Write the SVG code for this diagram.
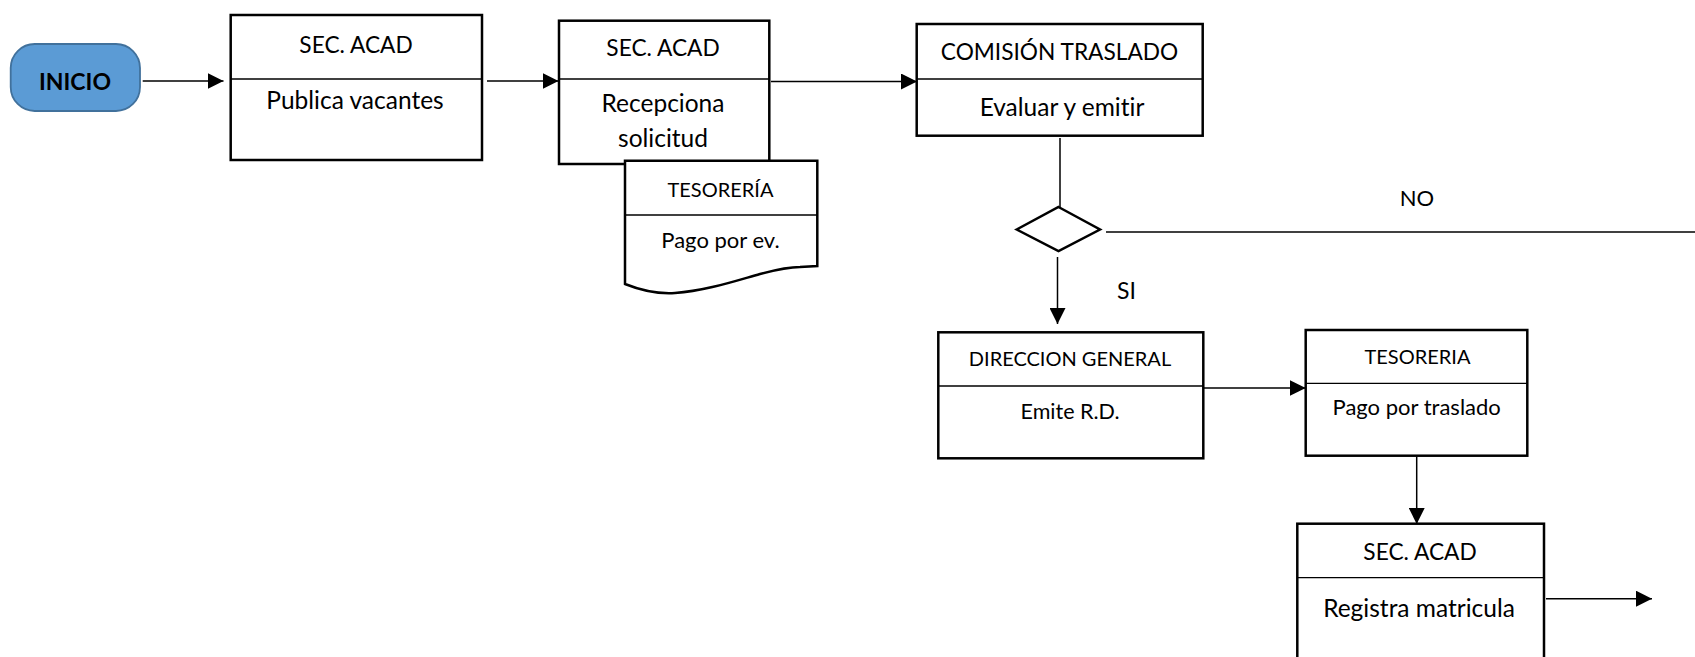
<svg xmlns="http://www.w3.org/2000/svg" width="1695" height="657" viewBox="0 0 1695 657">
<style>
.box{fill:#fff;stroke:#000;stroke-width:2.5}
.div{stroke:#000;stroke-width:1.3;fill:none}
.con{stroke:#000;stroke-width:1.5;fill:none}
.t{font-family:Lato,"Liberation Sans",sans-serif;fill:#000;text-anchor:middle;font-variant-ligatures:none}
.lg{font-size:24.5px}
.lgc{font-size:22.7px}
.sm{font-size:22px}
.smc{font-size:20px}
</style>
<defs>
<marker id="arr" markerUnits="userSpaceOnUse" markerWidth="16" markerHeight="16" viewBox="0 0 16 16" refX="16" refY="8" orient="auto">
<path d="M0,0 L16,8 L0,16 z" fill="#000"/>
</marker>
</defs>
<rect width="1695" height="657" fill="#fff"/>
<g id="connectors">
<line class="con" x1="142.7" y1="81" x2="223.5" y2="81" marker-end="url(#arr)"/>
<line class="con" x1="487" y1="81" x2="558.5" y2="81" marker-end="url(#arr)"/>
<line class="con" x1="771" y1="81.5" x2="917" y2="81.5" marker-end="url(#arr)"/>
<line class="con" x1="1060" y1="138" x2="1060" y2="207"/>
<line class="con" x1="1106" y1="232" x2="1695" y2="232"/>
<line class="con" x1="1057.5" y1="257" x2="1057.5" y2="324" marker-end="url(#arr)"/>
<line class="con" x1="1204" y1="388" x2="1305.7" y2="388" marker-end="url(#arr)"/>
<line class="con" x1="1416.7" y1="456.5" x2="1416.7" y2="524" marker-end="url(#arr)" stroke="#444"/>
<line class="con" x1="1546" y1="598.7" x2="1652" y2="598.7" marker-end="url(#arr)"/>
<text class="t" x="1417" y="205.7" style="font-size:22px">NO</text>
<text class="t" x="1126.5" y="299" style="font-size:23px">SI</text>
</g>
<g id="inicio">
<rect x="10.7" y="44" width="129.3" height="67" rx="24" ry="24" fill="#5B9BD5" stroke="#41719C" stroke-width="1.8"/>
<text class="t" x="75" y="90" style="font-size:23px;font-weight:bold">INICIO</text>
</g>
<g id="publica">
<rect class="box" x="230.7" y="15" width="251.3" height="145"/>
<line class="div" x1="230.7" y1="79" x2="482" y2="79"/>
<text class="t lgc" x="356" y="52.7">SEC. ACAD</text>
<text class="t lg" x="355" y="109">Publica vacantes</text>
</g>
<g id="recepciona">
<rect class="box" x="559" y="20.7" width="210.3" height="143.3"/>
<line class="div" x1="559" y1="79" x2="769.3" y2="79"/>
<text class="t lgc" x="663" y="56">SEC. ACAD</text>
<text class="t lg" x="663" y="112">Recepciona</text>
<text class="t lg" x="663" y="146.7">solicitud</text>
</g>
<g id="pago-ev">
<path class="box" d="M625,160.7 H817.3 V266 L800,267 C790,267 775,270 760,274 C735,281 705,291 675,293 C660,294 645,292 625,284 Z"/>
<line class="div" x1="625" y1="215" x2="817.3" y2="215"/>
<text class="t smc" x="720.5" y="196.7">TESORERÍA</text>
<text class="t sm" x="720.5" y="248">Pago por ev.</text>
</g>
<g id="comision">
<rect class="box" x="916.7" y="24" width="286" height="111.7"/>
<line class="div" x1="916.7" y1="79" x2="1202.7" y2="79"/>
<text class="t lgc" x="1059.5" y="60">COMISIÓN TRASLADO</text>
<text class="t lg" x="1062" y="116">Evaluar y emitir</text>
</g>
<g id="decision">
<polygon class="box" points="1058.5,207 1100,229.5 1058.5,251 1016.7,229.5"/>
</g>
<g id="direccion">
<rect class="box" x="938.3" y="332.3" width="265" height="126"/>
<line class="div" x1="938.3" y1="386" x2="1203.3" y2="386"/>
<text class="t smc" x="1070" y="366">DIRECCION GENERAL</text>
<text class="t" x="1070" y="419.3" style="font-size:21.5px">Emite R.D.</text>
</g>
<g id="tesoreria">
<rect class="box" x="1305.7" y="330" width="221.6" height="125.7"/>
<line class="div" x1="1305.7" y1="383.3" x2="1527.3" y2="383.3"/>
<text class="t smc" x="1417.5" y="364">TESORERIA</text>
<text class="t sm" x="1416.7" y="415">Pago por traslado</text>
</g>
<g id="registra">
<rect class="box" x="1297.3" y="523.7" width="246.7" height="160"/>
<line class="div" x1="1297.3" y1="577.7" x2="1544" y2="577.7"/>
<text class="t lgc" x="1420" y="560">SEC. ACAD</text>
<text class="t lg" x="1419" y="616.7">Registra matricula</text>
</g>
</svg>
